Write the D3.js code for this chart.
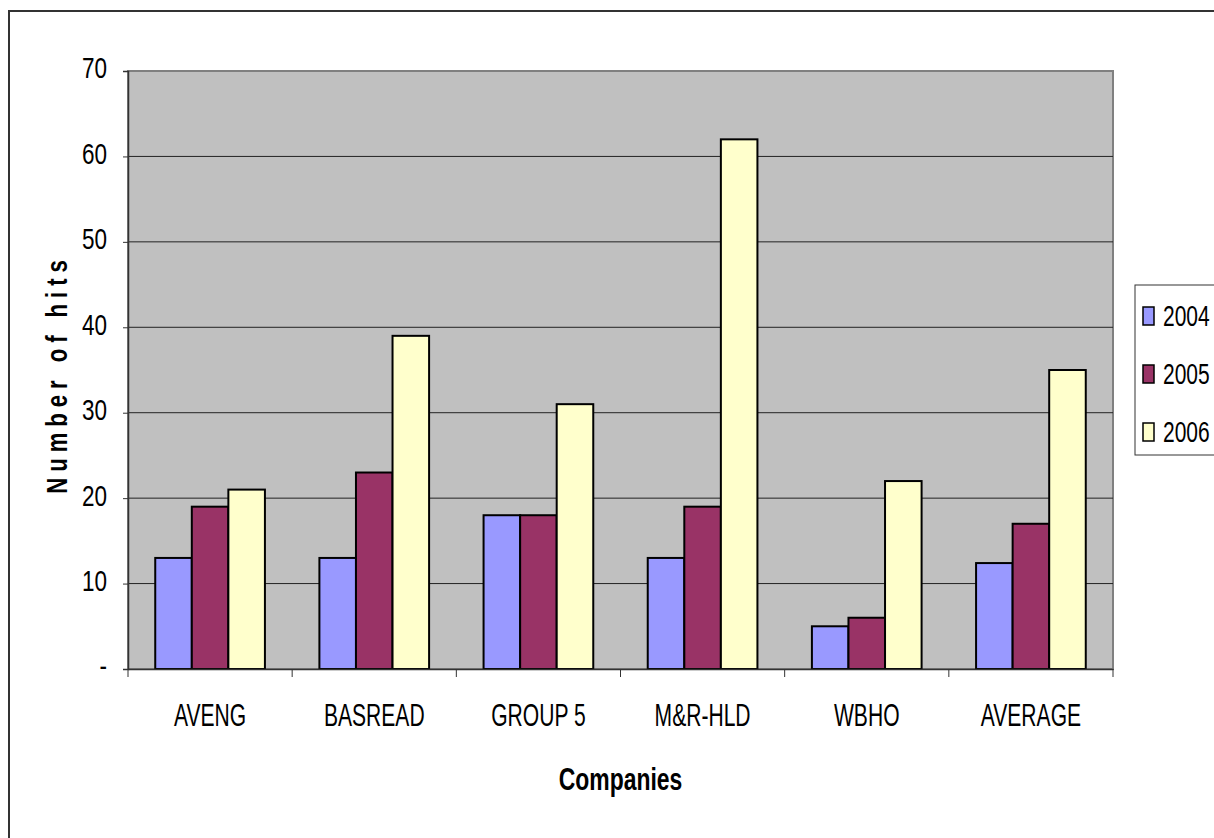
<!DOCTYPE html>
<html>
<head>
<meta charset="utf-8">
<script src="https://cdn.jsdelivr.net/npm/d3@7"></script>
<style>
  body { margin: 0; background: white; }
  text { font-family: "Liberation Sans", Arial, sans-serif; fill: black; }
</style>
</head>
<body>
<div id="chart_area"></div>
<script>

// Chart data
var companies = ["AVENG", "BASREAD", "GROUP 5", "M&R-HLD", "WBHO", "AVERAGE"];
var years = ["2004", "2005", "2006"];
var hits2004 = [13, 13, 18, 13, 5, 12.4];
var hits2005 = [19, 23, 18, 19, 6, 17];
var hits2006 = [21, 39, 31, 62, 22, 35];
var yTicks = [0, 10, 20, 30, 40, 50, 60, 70];
var colors = ["#9999FF", "#993366", "#FFFFCC"];

window.onload = function() {

  // Build rows for grouped bars
  var series = [hits2004, hits2005, hits2006];
  var data = companies.map(function(c, i) {
    return { company: c, values: years.map(function(y, j) {
      return { year: y, value: series[j][i] };
    }) };
  });

  var svgW = 1214, svgH = 838;
  var margin = { left: 128, top: 71, right: 101, bottom: 169 };
  var dataW = svgW - margin.left - margin.right;
  var dataH = svgH - margin.top - margin.bottom;

  var svg = d3.select("#chart_area")
              .append("svg")
                .attr("width", svgW)
                .attr("height", svgH);

  // Outer chart border
  svg.append("rect")
      .attr("x", 9).attr("y", 11)
      .attr("width", 1300).attr("height", 1000)
      .attr("fill", "white")
      .attr("stroke", "#333")
      .attr("stroke-width", 2);

  var g = svg.append("g")
              .attr("transform", "translate(" + margin.left + "," + margin.top + ")");

  // Scales
  var x0 = d3.scaleBand().domain(companies).range([0, dataW]).padding(0);
  var x1 = d3.scaleBand().domain(years).range([0, x0.bandwidth()])
              .paddingInner(0).paddingOuter(0.745);
  var y = d3.scaleLinear().domain([0, 70]).range([dataH, 0]);
  var color = d3.scaleOrdinal().domain(years).range(colors);

  // Plot area
  g.append("rect")
    .attr("width", dataW).attr("height", dataH)
    .attr("fill", "#C0C0C0")
    .attr("stroke", "#808080")
    .attr("stroke-width", 2);

  // Gridlines
  g.selectAll(".grid")
    .data(yTicks.slice(1, -1))
    .enter()
    .append("line")
      .attr("x1", 0).attr("x2", dataW)
      .attr("y1", function(d) { return y(d); })
      .attr("y2", function(d) { return y(d); })
      .attr("stroke", "#222")
      .attr("stroke-width", 1);

  // Bars
  var groups = g.selectAll(".group")
                .data(data)
                .enter()
                .append("g")
                  .attr("transform", function(d) { return "translate(" + x0(d.company) + ",0)"; });

  groups.selectAll("rect")
        .data(function(d) { return d.values; })
        .enter()
        .append("rect")
          .attr("x", function(d) { return x1(d.year); })
          .attr("y", function(d) { return y(d.value); })
          .attr("width", x1.bandwidth())
          .attr("height", function(d) { return dataH - y(d.value); })
          .attr("fill", function(d) { return color(d.year); })
          .attr("stroke", "black")
          .attr("stroke-width", 2);

  // Y axis
  var yAxis = d3.axisLeft(y)
                .tickValues(yTicks)
                .tickSize(5)
                .tickPadding(16)
                .tickFormat(function(d) { return d === 0 ? "-" : d; });
  var yg = g.append("g").call(yAxis);
  yg.select(".domain").attr("stroke", "#333").attr("stroke-width", 1.5);
  yg.selectAll(".tick line").attr("stroke", "#333");
  yg.selectAll("text")
    .attr("font-family", null)
    .style("font-size", "30px")
    .attr("x", 0)
    .attr("dy", "0.33em")
    .attr("transform", "translate(-21,-3) scale(0.75,1)");

  // X axis
  var xAxis = d3.axisBottom(x0).tickSize(0).tickPadding(0);
  var xg = g.append("g")
            .attr("transform", "translate(0," + dataH + ")")
            .call(xAxis);
  xg.select(".domain").attr("stroke", "#333").attr("stroke-width", 1.5);
  xg.selectAll("text")
    .attr("font-family", null)
    .style("font-size", "31px")
    .attr("y", 0)
    .attr("dy", 0)
    .attr("transform", "translate(0,57) scale(0.68,1)");

  // Tick marks between categories
  var bounds = companies.map(function(c) { return x0(c); }).concat([dataW]);
  xg.selectAll(".sep")
    .data(bounds)
    .enter()
    .append("line")
      .attr("x1", function(d) { return d; })
      .attr("x2", function(d) { return d; })
      .attr("y1", 0).attr("y2", 8)
      .attr("stroke", "#333");

  // Axis titles
  svg.append("text")
      .attr("transform", "translate(" + (margin.left + dataW / 2) + ",790) scale(0.74,1)")
      .style("text-anchor", "middle")
      .style("font-size", "31px")
      .style("font-weight", "bold")
      .text("Companies");

  svg.append("text")
      .attr("transform", "translate(67,374) rotate(-90) scale(0.74,1)")
      .style("text-anchor", "middle")
      .style("font-size", "30px")
      .style("font-weight", "bold")
      .style("letter-spacing", "8px")
      .text("Number of hits");

  // Legend
  var legend = svg.append("g")
                  .attr("transform", "translate(1135,285)");
  legend.append("rect")
        .attr("width", 200).attr("height", 170)
        .attr("fill", "white")
        .attr("stroke", "#333")
        .attr("stroke-width", 1);

  var items = legend.selectAll(".item")
                    .data(years)
                    .enter()
                    .append("g")
                      .attr("transform", function(d, i) { return "translate(0," + (22 + i * 58) + ")"; });
  items.append("rect")
        .attr("x", 8).attr("width", 11).attr("height", 18)
        .attr("fill", function(d) { return color(d); })
        .attr("stroke", "black")
        .attr("stroke-width", 1.5);
  items.append("text")
        .attr("transform", "translate(28,19) scale(0.7,1)")
        .style("font-size", "30px")
        .text(function(d) { return d; });
};
</script>
</body>
</html>
